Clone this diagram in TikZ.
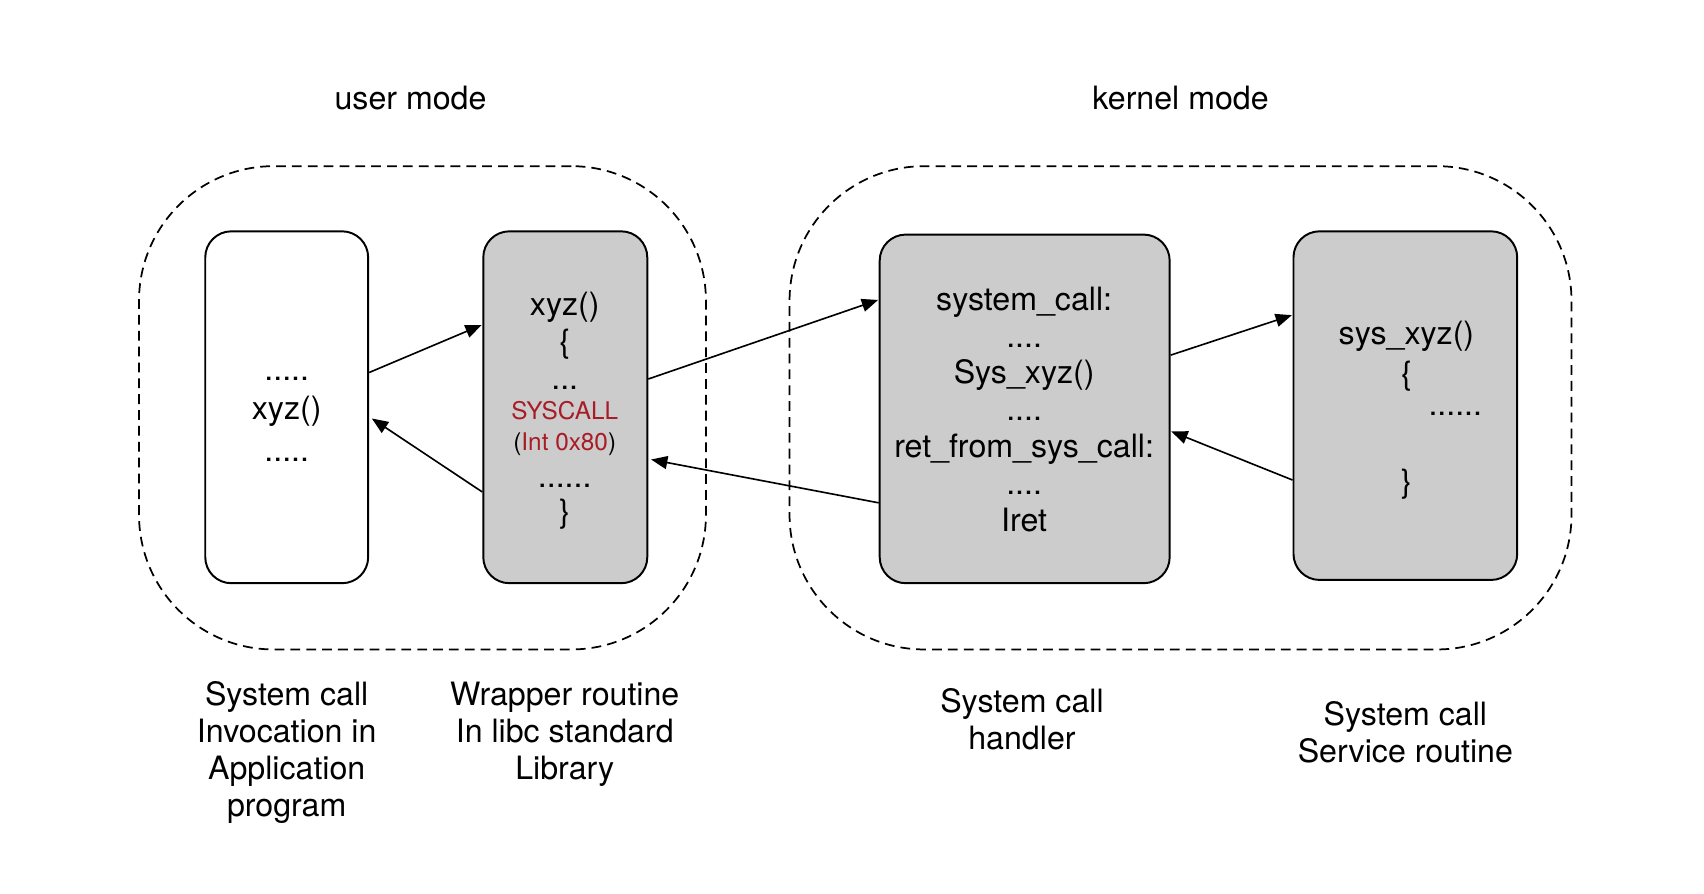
\documentclass[tikz,border=0pt]{standalone}
\usepackage{fontspec}
\setmainfont{TeX Gyre Heros}
\usetikzlibrary{arrows.meta,calc}
\definecolor{boxgray}{HTML}{CCCCCC}
\definecolor{sysred}{RGB}{168,28,38}
\tikzset{
  txt/.style={font=\fontsize{14.8}{17}\selectfont, align=center, inner sep=0pt},
  procbox/.style={draw, line width=0.9pt, rounded corners=12pt, minimum width=#1, inner sep=0pt},
  region/.style={draw, dash pattern=on 4.5pt off 2.8pt, line width=0.8pt, rounded corners=62pt, inner sep=0pt},
  link/.style={line width=0.75pt, -{Triangle[length=7.5pt,width=6pt]}, shorten >=0.3pt}
}
\begin{document}
\begin{tikzpicture}[x=0.5pt,y=-0.5pt]
\useasboundingbox (0,0) rectangle (1569,823);
% regions
\node[region, minimum width=261pt, minimum height=222.5pt] (L) at (389,375.5) {};
\node[region, minimum width=360pt, minimum height=222.5pt] (R) at (1087,375.5) {};
\node[txt] (um) at (378,90) {user mode};
\node[txt] (km) at (1087,90) {kernel mode};
% boxes
\node[procbox=75pt, minimum height=162pt, fill=white] (A) at (264,375) {};
\node[procbox=75.5pt, minimum height=162pt, fill=boxgray] (B) at (520.5,375) {};
\node[procbox=133.5pt, minimum height=160.5pt, fill=boxgray] (C) at (943.5,376.5) {};
\node[procbox=103pt, minimum height=160.5pt, fill=boxgray] (D) at (1294,373.5) {};
% box contents
\node[txt] (At) at (264,386) {.....\\[1pt] xyz()\\[2pt] .....};
\node[txt] (Bt) at (520,378) {xyz()\\ \{\\ ...\\[-3pt] {\color{sysred}\fontsize{11.2}{14}\selectfont SYSCALL}\\[-3pt] {\fontsize{11.2}{14}\selectfont(\textcolor{sysred}{Int 0x80})}\\ ......\\[-1pt] \}};
\node[txt] (Ct) at (943,377) {system\_call:\\ ....\\ Sys\_xyz()\\ ....\\ ret\_from\_sys\_call:\\ ....\\ Iret};
\node[txt] (D1) at (1295,310) {sys\_xyz()};
\node[txt] (D2) at (1295,346) {\{};
\node[txt] (D3) at (1340,381) {......};
\node[txt] (D4) at (1295,446) {\}};
% connectors
\draw[link] ($(A.east)+(0,-32)$) -- ($(B.west)+(0,-76)$);
\draw[link] ($(B.west)+(0,78)$) -- ($(A.east)+(2,10)$);
\draw[link] ($(B.east)+(0,-26)$) -- ($(C.west)+(0,-100.5)$);
\draw[link] ($(C.west)+(0,86.5)$) -- ($(B.east)+(2,48)$);
\draw[link] ($(C.east)+(0,-49.5)$) -- ($(D.west)+(0,-83.5)$);
\draw[link] ($(D.west)+(0,68.5)$) -- ($(C.east)+(0,20.5)$);
% captions
\node[txt] (la) at (264,693) {System call\\ Invocation in\\ Application\\ program};
\node[txt] (lb) at (520,676) {Wrapper routine\\ In libc standard\\ Library};
\node[txt] (lc) at (941,662) {System call\\ handler};
\node[txt] (ld) at (1294,674) {System call\\ Service routine};
\end{tikzpicture}
\end{document}
